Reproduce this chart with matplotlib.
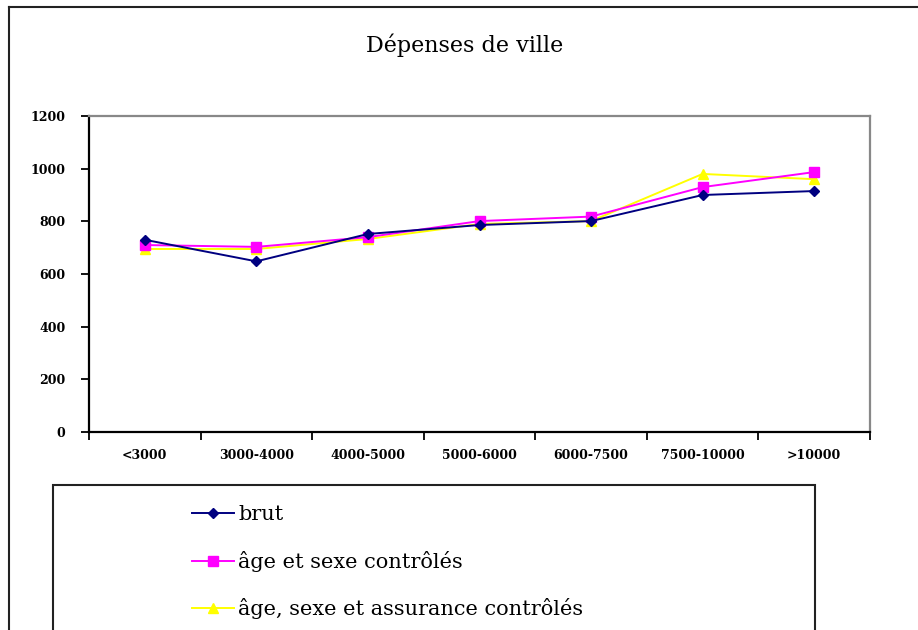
import numpy as np
import matplotlib.pyplot as plt
from matplotlib.lines import Line2D
from matplotlib.patches import Rectangle

# Données
categories = ["<3000", "3000-4000", "4000-5000", "5000-6000", "6000-7500", "7500-10000", ">10000"]
brut = [730, 648, 752, 786, 801, 900, 915]
age_sexe = [710, 703, 740, 801, 818, 930, 987]
age_sexe_assurance = [695, 695, 733, 790, 801, 980, 960]
yticks = [0, 200, 400, 600, 800, 1000, 1200]

W, H = 918, 630
fig = plt.figure(figsize=(W / 100, H / 100), dpi=100)
fig.patch.set_facecolor("white")

ax = fig.add_axes([89 / W, 1 - 432 / H, (870 - 89) / W, (432 - 116) / H])
x = np.arange(len(categories))

ax.plot(x, brut, color="#000080", marker="D", markersize=5.5, lw=1.4, label="brut", zorder=3)
ax.plot(x, age_sexe, color="#FF00FF", marker="s", markersize=6.5, lw=1.4, label="âge et sexe contrôlés", zorder=2)
ax.plot(x, age_sexe_assurance, color="#FFFF00", marker="^", markersize=7.5, lw=1.4,
        label="âge, sexe et assurance contrôlés", zorder=1)

ax.set_xlim(-0.5, len(categories) - 0.5)
ax.set_ylim(0, 1200)

tick_font = {"family": "DejaVu Serif", "size": 9, "weight": "bold"}

# graduations y
ax.set_yticks(yticks)
ax.set_yticklabels([str(v) for v in yticks], **tick_font)
ax.tick_params(axis="y", direction="out", length=6, width=1.3, pad=11)

# graduations x : traits aux limites, étiquettes au centre
ax.set_xticks(np.arange(len(categories) + 1) - 0.5)
ax.set_xticklabels([])
ax.set_xticks(x, minor=True)
ax.set_xticklabels(categories, minor=True, **tick_font)
ax.tick_params(axis="x", which="major", direction="out", length=6, width=1.3)
ax.tick_params(axis="x", which="minor", length=0, pad=12)

for side in ("left", "bottom"):
    ax.spines[side].set_color("black")
    ax.spines[side].set_linewidth(1.6)
for side in ("top", "right"):
    ax.spines[side].set_color("#888888")
    ax.spines[side].set_linewidth(1.6)

fig.text(465 / W, 1 - 45 / H, "Dépenses de ville", ha="center", va="center",
         fontsize=16, family="DejaVu Serif")

# cadre extérieur
fig.add_artist(Line2D([9 / W, 9 / W], [0, 1 - 7 / H], color="#222222", lw=1.5))
fig.add_artist(Line2D([9 / W, 1], [1 - 7 / H, 1 - 7 / H], color="#222222", lw=1.5))

# cadre de la légende
fig.add_artist(Rectangle((53 / W, -0.05), (815 - 53) / W, 0.05 + (630 - 485) / H,
                         transform=fig.transFigure, fill=False, edgecolor="#222222", lw=1.5))
fig.legend(loc="upper left", bbox_to_anchor=(184 / W, 1 - 497 / H), frameon=False,
           prop={"family": "DejaVu Serif", "size": 15}, labelspacing=1.27,
           handlelength=2.0, handletextpad=0.2, borderaxespad=0)

fig.savefig("out.png", dpi=100)
